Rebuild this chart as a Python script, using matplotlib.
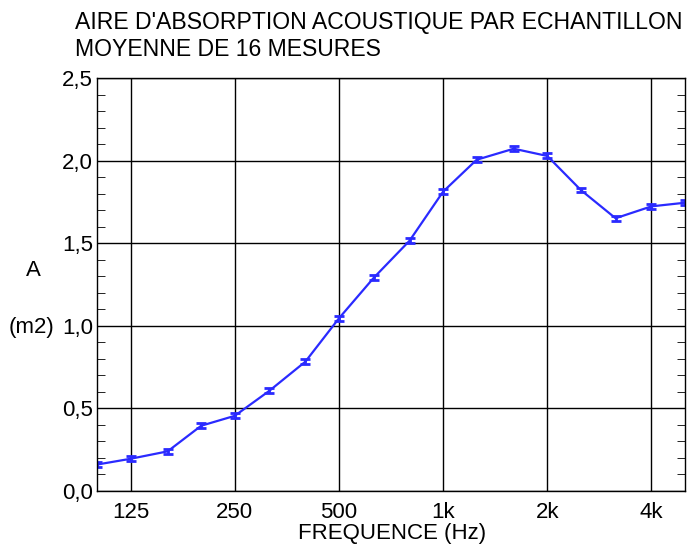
import matplotlib
matplotlib.use("Agg")
import matplotlib.pyplot as plt
from matplotlib.ticker import FixedLocator, MultipleLocator, NullLocator, FuncFormatter

plt.rcParams['font.family'] = ['Liberation Sans', 'DejaVu Sans']

freqs = [100, 125, 160, 200, 250, 315, 400, 500, 630, 800, 1000, 1250, 1600, 2000, 2500, 3150, 4000, 5000]
area = [0.16, 0.195, 0.24, 0.395, 0.455, 0.607, 0.783, 1.045, 1.29, 1.515, 1.812, 2.005, 2.072, 2.028, 1.822, 1.651, 1.723, 1.745]
err = [0.015] * len(freqs)
tick_freqs = [125, 250, 500, 1000, 2000, 4000]
tick_labels = ['125', '250', '500', '1k', '2k', '4k']

FS = 16

fig = plt.figure(figsize=(6.92, 5.45), dpi=100)
ax = fig.add_axes([97/692, 1-491/545, (685-97)/692, (491-78)/545])

ax.errorbar(freqs, area, yerr=err, color='#2a2aff', lw=1.6, capsize=3.5, capthick=2.0, elinewidth=2.0)
ax.set_xscale('log')
ax.set_xlim(100, 5000)
ax.set_ylim(0, 2.5)
ax.xaxis.set_major_locator(FixedLocator(tick_freqs))
ax.xaxis.set_minor_locator(NullLocator())
ax.set_xticklabels(tick_labels)
ax.yaxis.set_major_locator(MultipleLocator(0.5))
ax.yaxis.set_minor_locator(MultipleLocator(0.1))
ax.yaxis.set_major_formatter(FuncFormatter(lambda v, p: f"{v:.1f}".replace('.', ',')))
ax.grid(True, which='major', color='black', lw=1.0)
ax.tick_params(axis='x', which='major', length=0, labelsize=FS, pad=8)
ax.tick_params(axis='y', which='both', direction='in', right=True, labelsize=FS, pad=3)
ax.tick_params(axis='y', which='minor', length=6)
ax.tick_params(axis='y', which='major', length=0)
for s in ax.spines.values():
    s.set_linewidth(1.0)

fig.text(75/692, 1-29/545, "AIRE D'ABSORPTION ACOUSTIQUE PAR ECHANTILLON", fontsize=16.6, va='baseline', ha='left')
fig.text(75/692, 1-56/545, "MOYENNE DE 16 MESURES", fontsize=16.6, va='baseline', ha='left')
fig.text(33/692, 1-270/545, "A", fontsize=FS, ha='center', va='center')
fig.text(31/692, 1-328/545, "(m2)", fontsize=FS, ha='center', va='center')
fig.text(392/692, 1-533/545, "FREQUENCE (Hz)", fontsize=FS, ha='center', va='center')

fig.savefig('out.png', dpi=100)
